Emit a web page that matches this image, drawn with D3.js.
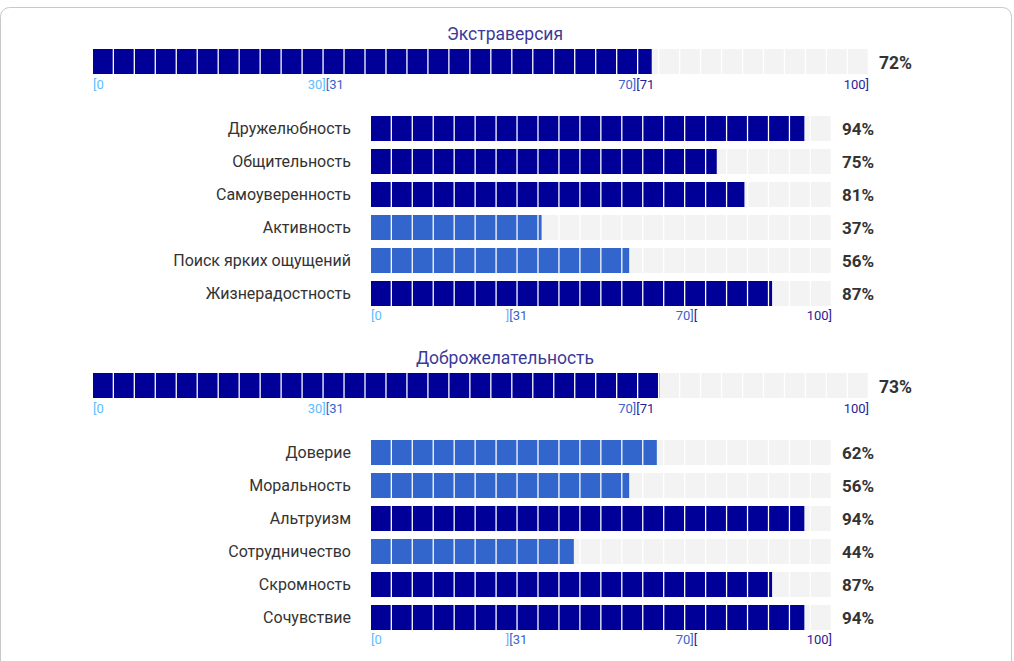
<!DOCTYPE html>
<html>
<head>
<meta charset="utf-8">
<script src="https://cdn.jsdelivr.net/npm/d3@7"></script>
<style>
  body { margin: 0; background: #fff; font-family: Roboto, "Noto Sans", sans-serif; }
  svg { display: block; }
</style>
</head>
<body>
<div id="chart"></div>
<script>
// Dades: dominis i facetes
const domainNames = ["Экстраверсия", "Доброжелательность"];
const domainValues = [72, 73];
const facetNames = [
  ["Дружелюбность", "Общительность", "Самоуверенность", "Активность", "Поиск ярких ощущений", "Жизнерадостность"],
  ["Доверие", "Моральность", "Альтруизм", "Сотрудничество", "Скромность", "Сочувствие"]
];
const facetValues = [
  [94, 75, 81, 37, 56, 87],
  [62, 56, 94, 44, 87, 94]
];
// Etiquetes dels eixos (part esquerra / dreta de cada límit)
const tickAt = [0, 30, 70, 100];
const domainTickLeft = ["", "30]", "70]", "100]"];
const domainTickRight = ["[0", "[31", "[71", ""];
const facetTickLeft = ["", "]", "70]", "100]"];
const facetTickRight = ["[0", "[31", "[", ""];

const rangeColors = ["#5cbcff", "#3a62cc", "#2a1a9a"];
const barColor = v => v > 70 ? "#000099" : v > 30 ? "#3366cc" : "#66ccff";

const W = 1014, H = 661;
const svg = d3.select("#chart").append("svg").attr("width", W).attr("height", H);

// Targeta de fons
svg.append("rect")
  .attr("x", 0.5).attr("y", 7.5)
  .attr("width", 1011).attr("height", 700)
  .attr("rx", 9)
  .attr("fill", "#fff").attr("stroke", "#c8c8c8");

const cellW = 21, gap = 1.3, barH = 25;
const xTop = d3.scaleLinear().domain([0, 100]).range([93, 869]);
const xSub = d3.scaleLinear().domain([0, 100]).range([371, 832]);

// Dibuixa una barra de cel·les retallada al valor
function drawBar(g, x, y, value) {
  const [r0, r1] = x.range();
  const n = Math.round((r1 - r0) / cellW);
  const step = (r1 - r0) / n;
  const cells = d3.range(n);
  const xv = x(value);
  g.selectAll(null).data(cells).join("rect")
    .attr("x", i => r0 + i * step)
    .attr("y", y)
    .attr("width", i => Math.max(0, Math.min(step - gap, r1 - (r0 + i * step))))
    .attr("height", barH)
    .attr("fill", "#f3f3f3");
  g.selectAll(null).data(cells.filter(i => r0 + i * step < xv)).join("rect")
    .attr("x", i => r0 + i * step)
    .attr("y", y)
    .attr("width", i => Math.min(step - gap, xv - (r0 + i * step)))
    .attr("height", barH)
    .attr("fill", barColor(value));
}

function drawTicks(g, x, y, left, right) {
  tickAt.forEach((t, i) => {
    if (left[i]) g.append("text").attr("x", x(t)).attr("y", y)
      .attr("text-anchor", "end").attr("font-size", 13)
      .attr("fill", rangeColors[Math.max(0, i - 1)]).text(left[i]);
    if (right[i]) g.append("text").attr("x", x(t)).attr("y", y)
      .attr("text-anchor", "start").attr("font-size", 13)
      .attr("fill", rangeColors[i]).text(right[i]);
  });
}

domainNames.forEach((name, k) => {
  const g = svg.append("g").attr("transform", `translate(0, ${k * 324})`);

  g.append("text").attr("x", 505).attr("y", 40)
    .attr("text-anchor", "middle").attr("font-size", 17.5)
    .attr("fill", "#3a3a99").text(name);

  drawBar(g, xTop, 49, domainValues[k]);
  g.append("text").attr("x", 879).attr("y", 69)
    .attr("font-size", 17.5).attr("font-weight", "bold")
    .attr("fill", "#333").text(domainValues[k] + "%");
  drawTicks(g, xTop, 89, domainTickLeft, domainTickRight);

  facetNames[k].forEach((fn, j) => {
    const y = 116 + j * 33;
    g.append("text").attr("x", 351).attr("y", y + 18)
      .attr("text-anchor", "end").attr("font-size", 16)
      .attr("fill", "#333").text(fn);
    drawBar(g, xSub, y, facetValues[k][j]);
    g.append("text").attr("x", 842).attr("y", y + 19)
      .attr("font-size", 17).attr("font-weight", "bold")
      .attr("fill", "#333").text(facetValues[k][j] + "%");
  });
  drawTicks(g, xSub, 320, facetTickLeft, facetTickRight);
});
</script>
</body>
</html>
